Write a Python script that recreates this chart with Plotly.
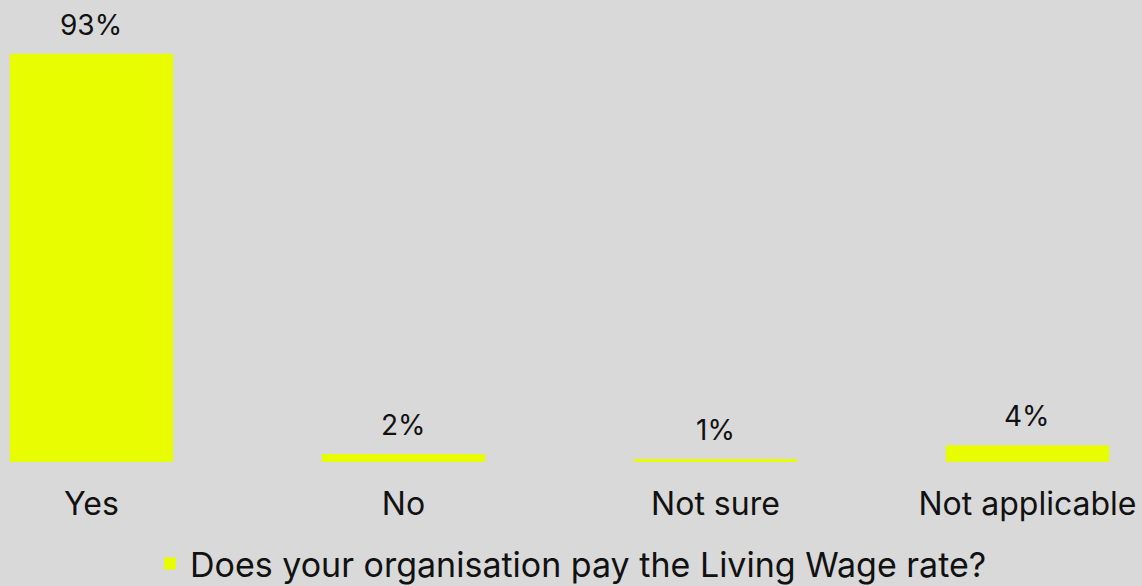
import plotly.graph_objects as go

# survey answers and shares (%)
answers = ["Yes", "No", "Not sure", "Not applicable"]
shares = [93, 1.8, 0.7, 3.8]
share_labels = ["93%", "2%", "1%", "4%"]
series_name = "Does your organisation pay the Living Wage rate?"

BG = "#d9d9d9"
BAR = "#e8fd00"
FONT = "Inter, Noto Sans, sans-serif"

fig = go.Figure()
fig.add_trace(go.Bar(x=answers, y=shares, name=series_name,
                     marker=dict(color=BAR, line=dict(width=0)),
                     hoverinfo="x+y"))

# value labels floating above each bar
for a, v, t in zip(answers, shares, share_labels):
    fig.add_annotation(x=a, y=v, text=t, showarrow=False,
                       yanchor="bottom", yshift=10,
                       font=dict(family=FONT, size=28, color="#111111"))

fig.update_layout(
    width=1142, height=586,
    paper_bgcolor=BG, plot_bgcolor=BG,
    margin=dict(l=0, r=0, t=23, b=124, autoexpand=False),
    bargap=0.477,
    font=dict(family=FONT, color="#111111"),
    showlegend=True,
    legend=dict(orientation="h", x=0.5, xanchor="center",
                y=-0.232, yanchor="middle",
                font=dict(family=FONT, size=34, color="#111111"),
                bgcolor="rgba(0,0,0,0)"),
    xaxis=dict(range=[-0.293, 3.367], showgrid=False, zeroline=False,
               showline=False, ticks="", ticklabelstandoff=20,
               tickfont=dict(family=FONT, size=32, color="#111111")),
    yaxis=dict(range=[0, 100], visible=False, showgrid=False,
               zeroline=False),
)

# drop the default body margin so the figure fills the window
fig.write_html("out.html", config={"displayModeBar": False},
               post_script="document.body.style.margin='0';")
